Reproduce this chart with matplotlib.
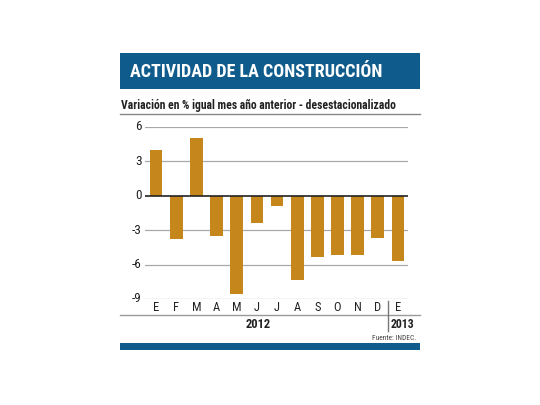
import matplotlib
matplotlib.use('Agg')
import matplotlib.pyplot as plt
from matplotlib.patches import Rectangle
from matplotlib.lines import Line2D

# Datos: variación % igual mes año anterior (desestacionalizado)
months = ['E', 'F', 'M', 'A', 'M', 'J', 'J', 'A', 'S', 'O', 'N', 'D', 'E']
values = [4.0, -3.8, 5.0, -3.5, -8.6, -2.4, -0.9, -7.3, -5.3, -5.2, -5.2, -3.7, -5.7]
yticks = [6, 3, 0, -3, -6, -9]

W, H = 540, 405
BAR = '#C5861C'
BLUE = '#0F5B8C'
FONT = ['Roboto Condensed', 'Archivo Narrow', 'DejaVu Sans']


# pixel coords (top-left origin) -> figure fraction
def fx(x):
    return x / W


def fy(y):
    return 1 - y / H


fig = plt.figure(figsize=(W / 100, H / 100), dpi=100)
fig.patch.set_facecolor('white')

# title band
fig.add_artist(Rectangle((fx(120), fy(89)), fx(420) - fx(120), fy(53) - fy(89),
                         transform=fig.transFigure, color=BLUE, lw=0))
fig.text(fx(130), fy(72), 'ACTIVIDAD DE LA CONSTRUCCIÓN', color='white',
         fontsize=13, fontweight='bold', family=FONT, va='center', ha='left')
fig.text(fx(121), fy(105), 'Variación en % igual mes año anterior - desestacionalizado',
         color='#222222', fontsize=8.4, fontweight='bold', family=FONT, va='center', ha='left')
fig.add_artist(Line2D([fx(120), fx(420)], [fy(114), fy(114)], transform=fig.transFigure,
                      color='#888888', lw=1))

# chart area
ax = fig.add_axes([fx(145), fy(299), fx(408) - fx(145), fy(127) - fy(299)])
x = list(range(len(values)))
ax.bar(x, values, width=0.63, color=BAR, zorder=3)
ax.set_xlim(-0.55, 12.5)
ax.set_ylim(-9, 6)
for t in yticks:
    ax.axhline(t, color='#222222' if t == 0 else '#A8A8A8', lw=1.2 if t == 0 else 0.9,
               zorder=2 if t != 0 else 4)
    ax.text(-0.72, t, str(t), ha='right', va='center', fontsize=9.5, family=FONT, color='#222222')
for s in ax.spines.values():
    s.set_visible(False)
ax.set_xticks([])
ax.set_yticks([])
for i, m in enumerate(months):
    ax.text(i, -9.75, m, ha='center', va='center', fontsize=9, family=FONT, color='#222222')

# bottom axis, years and separator
fig.add_artist(Line2D([fx(120), fx(420)], [fy(315), fy(315)], transform=fig.transFigure,
                      color='#999999', lw=1))
fig.add_artist(Line2D([fx(388), fx(388)], [fy(301), fy(331)], transform=fig.transFigure,
                      color='#777777', lw=1))
fig.text(fx(258), fy(324), '2012', ha='center', va='center', fontsize=9, fontweight='bold',
         family=FONT, color='#222222')
fig.text(fx(390.5), fy(324), '2013', ha='left', va='center', fontsize=8.5, fontweight='bold',
         family=FONT, color='#222222')
fig.text(fx(416), fy(338), 'Fuente: INDEC.', ha='right', va='center', fontsize=5.3,
         family=FONT, color='#444444')
fig.add_artist(Rectangle((fx(120), fy(350)), fx(420) - fx(120), fy(343) - fy(350),
                         transform=fig.transFigure, color=BLUE, lw=0))

fig.savefig('out.png', dpi=100)
